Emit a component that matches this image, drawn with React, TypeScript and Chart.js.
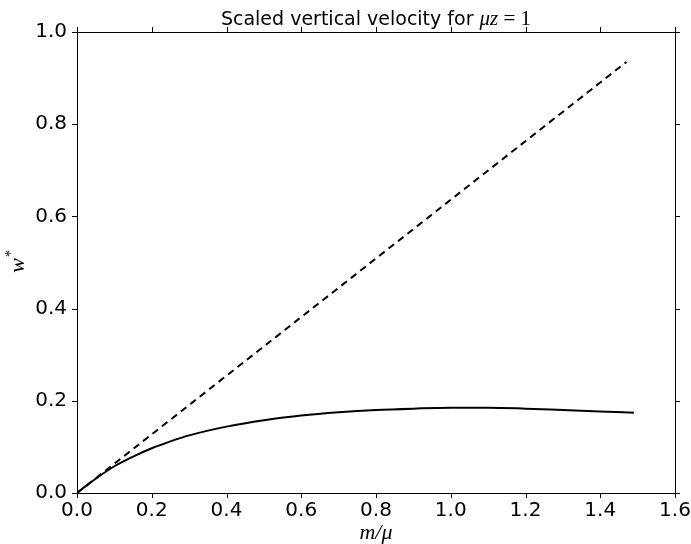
import React, { useEffect, useRef } from "react";
import { Chart, registerables } from "chart.js";

Chart.register(...registerables);

// ---- data ----
const solidX = [0, 0.025, 0.05, 0.1, 0.15, 0.2, 0.25, 0.3, 0.4, 0.5, 0.6, 0.7, 0.8, 0.9, 1.0, 1.1, 1.2, 1.3, 1.4, 1.49];
const solidY = [0, 0.016, 0.031, 0.058, 0.079, 0.097, 0.112, 0.125, 0.144, 0.158, 0.168, 0.175, 0.18, 0.183, 0.185, 0.185, 0.183, 0.18, 0.177, 0.174];
const dashedX = [0, 1.47];
const dashedY = [0, 0.935];
const xTicks = [0, 0.2, 0.4, 0.6, 0.8, 1.0, 1.2, 1.4, 1.6];
const yTicks = [0, 0.2, 0.4, 0.6, 0.8, 1.0];
const titleText = "Scaled vertical velocity for ";
const titleMath = "\u03BCz";
const titleEq = " = 1";
const xLabelText = "m/\u03BC";
const yLabelText = "w";
const yLabelSup = "*";

const framePlugin = {
  id: "frame",
  afterDraw(chart: any) {
    const { ctx, chartArea: a, scales } = chart;
    ctx.save();
    ctx.strokeStyle = "#000";
    ctx.lineWidth = 1;
    ctx.strokeRect(a.left + 0.5, a.top + 0.5, a.right - a.left, a.bottom - a.top);
    const tl = 5;
    ctx.beginPath();
    for (const v of xTicks) {
      const px = Math.round(scales.x.getPixelForValue(v)) + 0.5;
      ctx.moveTo(px, a.bottom);
      ctx.lineTo(px, a.bottom + tl);
      ctx.moveTo(px, a.top);
      ctx.lineTo(px, a.top - tl);
    }
    for (const v of yTicks) {
      const py = Math.round(scales.y.getPixelForValue(v)) + 0.5;
      ctx.moveTo(a.left, py);
      ctx.lineTo(a.left - tl, py);
      ctx.moveTo(a.right, py);
      ctx.lineTo(a.right + tl, py);
    }
    ctx.stroke();

    ctx.fillStyle = "#000";
    ctx.textBaseline = "alphabetic";
    // title
    const sansFont = "19px 'DejaVu Sans'";
    const mathFont = "italic 21px 'Liberation Serif'";
    const romFont = "21px 'Liberation Serif'";
    ctx.font = sansFont;
    const w1 = ctx.measureText(titleText).width;
    ctx.font = mathFont;
    const w2 = ctx.measureText(titleMath).width;
    ctx.font = romFont;
    const w3 = ctx.measureText(titleEq).width;
    const cx = (a.left + a.right) / 2;
    let tx = cx - (w1 + w2 + w3) / 2;
    const ty = 25;
    ctx.textAlign = "left";
    ctx.font = sansFont;
    ctx.fillText(titleText, tx, ty);
    tx += w1;
    ctx.font = mathFont;
    ctx.fillText(titleMath, tx, ty);
    tx += w2;
    ctx.font = romFont;
    ctx.fillText(titleEq, tx, ty);

    // x label
    ctx.font = "italic 22px 'Liberation Serif'";
    ctx.textAlign = "center";
    ctx.fillText(xLabelText, cx, 539);

    // y label
    const cy = (a.top + a.bottom) / 2;
    ctx.translate(24, cy);
    ctx.rotate(-Math.PI / 2);
    ctx.font = "italic 22px 'Liberation Serif'";
    const ww = ctx.measureText(yLabelText).width;
    ctx.textAlign = "left";
    ctx.fillText(yLabelText, -ww / 2 - 3, 0);
    ctx.font = "15px 'Liberation Serif'";
    ctx.fillText(yLabelSup, ww / 2 - 2, -9);
    ctx.restore();
  },
};

export default function App() {
  const ref = useRef<HTMLCanvasElement | null>(null);
  useEffect(() => {
    if (!ref.current) return;
    const solid = solidX.map((x, i) => ({ x, y: solidY[i] }));
    const dashed = dashedX.map((x, i) => ({ x, y: dashedY[i] }));
    const chart = new Chart(ref.current, {
      type: "line",
      data: {
        datasets: [
          {
            data: solid,
            borderColor: "#000",
            borderWidth: 2,
            pointRadius: 0,
            cubicInterpolationMode: "monotone",
            fill: false,
          },
          {
            data: dashed,
            borderColor: "#000",
            borderWidth: 2,
            borderDash: [7, 5],
            pointRadius: 0,
            fill: false,
          },
        ],
      },
      options: {
        animation: false,
        responsive: false,
        devicePixelRatio: 1,
        layout: { padding: { top: 32, right: 16, left: 0, bottom: 0 } },
        plugins: { legend: { display: false }, title: { display: false }, tooltip: { enabled: false } },
        scales: {
          x: {
            type: "linear",
            min: 0,
            max: 1.6,
            grid: { display: false, drawTicks: false },
            border: { display: false },
            afterBuildTicks: (s: any) => {
              s.ticks = xTicks.map((v) => ({ value: v }));
            },
            afterFit: (s: any) => {
              s.height = 51;
              s.paddingLeft = 0;
              s.paddingRight = 0;
            },
            ticks: {
              padding: 6,
              color: "#000",
              font: { family: "'DejaVu Sans'", size: 20 },
              callback: (v: any) => Number(v).toFixed(1),
              maxRotation: 0,
              autoSkip: false,
            },
          },
          y: {
            type: "linear",
            min: 0,
            max: 1,
            grid: { display: false, drawTicks: false },
            border: { display: false },
            afterBuildTicks: (s: any) => {
              s.ticks = yTicks.map((v) => ({ value: v }));
            },
            afterFit: (s: any) => {
              s.width = 77;
              s.paddingTop = 0;
              s.paddingBottom = 0;
            },
            ticks: {
              padding: 10,
              color: "#000",
              font: { family: "'DejaVu Sans'", size: 20 },
              callback: (v: any) => Number(v).toFixed(1),
              autoSkip: false,
            },
          },
        },
      },
      plugins: [framePlugin],
    } as any);
    return () => chart.destroy();
  }, []);
  return (
    <div style={{ position: "fixed", left: 0, top: 0, width: 691, height: 544, background: "#fff" }}>
      <canvas ref={ref} width={691} height={544} style={{ display: "block" }} />
    </div>
  );
}
